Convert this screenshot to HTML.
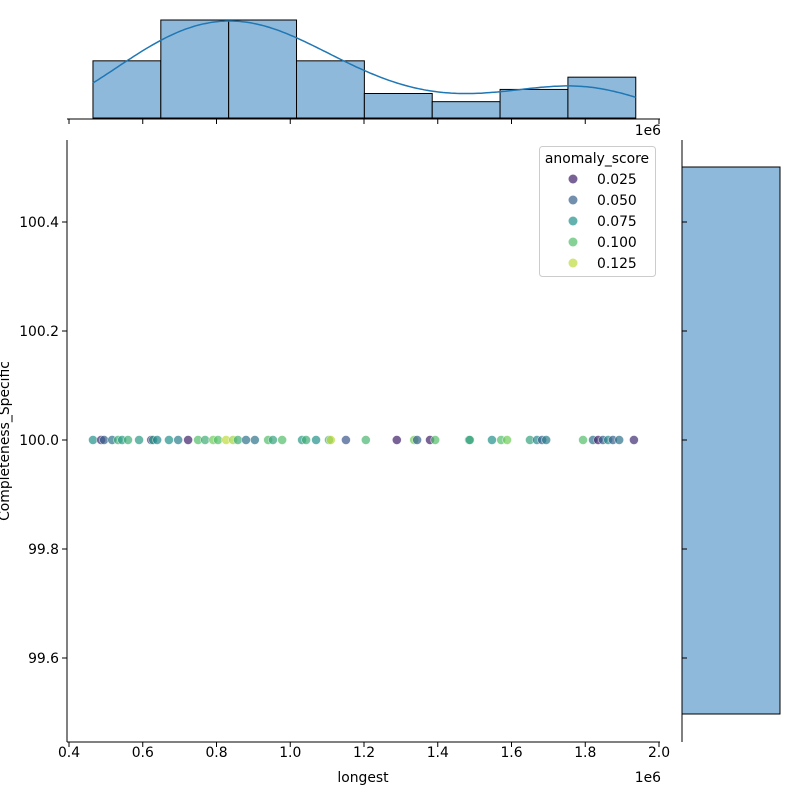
<!DOCTYPE html>
<html><head><meta charset="utf-8"><style>
html,body{margin:0;padding:0;background:#fff;}
svg{display:block;font-family:"DejaVu Sans","Liberation Sans",sans-serif;}
</style></head><body>
<svg id="chart" width="800" height="800" xmlns="http://www.w3.org/2000/svg">
<g id="topg"></g>
<g id="rightg"></g>
<g id="maing"></g>
<g id="legendg"></g>
</svg>
<script>
const xValues=[0.465,0.487,0.495,0.517,0.533,0.544,0.560,0.590,0.623,0.628,0.639,0.671,0.696,0.723,0.750,0.769,0.791,0.804,0.826,0.845,0.858,0.880,0.904,0.940,0.953,0.978,1.032,1.043,1.070,1.105,1.110,1.151,1.205,1.289,1.336,1.344,1.379,1.393,1.485,1.487,1.547,1.572,1.588,1.650,1.669,1.683,1.694,1.794,1.821,1.835,1.848,1.862,1.875,1.892,1.932];
const scores=[0.075,0.03,0.05,0.06,0.09,0.08,0.09,0.08,0.03,0.08,0.07,0.075,0.065,0.025,0.1,0.09,0.11,0.1,0.125,0.12,0.09,0.06,0.06,0.1,0.085,0.1,0.08,0.09,0.075,0.09,0.125,0.045,0.095,0.025,0.11,0.05,0.025,0.1,0.07,0.09,0.075,0.1,0.11,0.085,0.07,0.05,0.065,0.1,0.06,0.025,0.05,0.07,0.05,0.06,0.03];
const yValue=100.0;
const binEdges=[0.465,0.649,0.833,1.017,1.201,1.385,1.569,1.753,1.937];
const binCounts=[7,12,12,7,3,2,3.5,5];
const xTicks=[0.4,0.6,0.8,1.0,1.2,1.4,1.6,1.8,2.0];
const yTicks=[99.6,99.8,100.0,100.2,100.4];
const legendValues=[0.025,0.050,0.075,0.100,0.125];

const NS="http://www.w3.org/2000/svg";
const FS=13.9;
function el(p,t,a){const e=document.createElementNS(NS,t);for(const k in a)e.setAttribute(k,a[k]);p.appendChild(e);return e;}
const X0=67,X1=660,Y0=140,Y1=742;
const sx=v=>69+(v-0.4)/0.2*73.75;
const sy=v=>440-(v-100)/0.2*109;
const vir=[[68,1,84],[59,82,139],[33,145,140],[94,201,98],[253,231,37]];
function color(s){let t=(s-0.0125)/0.125;t=Math.max(0,Math.min(1,t))*4;const i=Math.min(3,Math.floor(t)),f=t-i;const c=vir[i].map((v,k)=>Math.round(v+(vir[i+1][k]-v)*f));return `rgb(${c})`;}

const mainG=document.getElementById('maing');
const sp1=el(mainG,'line',{x1:X0,y1:Y0,x2:X0,y2:Y1,stroke:'#000','stroke-width':1});


const sp2=el(mainG,'line',{x1:X0,y1:Y1,x2:X1,y2:Y1,stroke:'#000','stroke-width':1});


xTicks.forEach(v=>{const x=sx(v);
 el(mainG,'line',{x1:x,y1:Y1,x2:x,y2:Y1+5,stroke:'#000'});
 const t=el(mainG,'text',{x:x,y:Y1+15,'font-size':FS,'text-anchor':'middle'});t.textContent=v.toFixed(1);
 
 
 el(mainG,'line',{x1:x,y1:119,x2:x,y2:124,stroke:'#000'});
});
yTicks.forEach(v=>{const y=sy(v);
 el(mainG,'line',{x1:X0-5,y1:y,x2:X0,y2:y,stroke:'#000'});
 const t=el(mainG,'text',{x:X0-8,y:y+5,'font-size':FS,'text-anchor':'end'});t.textContent=v.toFixed(1);
 
 
 el(mainG,'line',{x1:682,y1:y,x2:687,y2:y,stroke:'#000'});
});
let tx=el(mainG,'text',{x:363,y:782,'font-size':FS,'text-anchor':'middle'});tx.textContent='longest';


tx=el(mainG,'text',{x:0,y:0,'font-size':FS,'text-anchor':'middle',transform:'translate(9,441) rotate(-90)'});tx.textContent='Completeness_Specific';


tx=el(mainG,'text',{x:661,y:782,'font-size':FS,'text-anchor':'end'});tx.textContent='1e6';


tx=el(mainG,'text',{x:661,y:135,'font-size':FS,'text-anchor':'end'});tx.textContent='1e6';


xValues.forEach((v,i)=>{const c=el(mainG,'circle',{cx:sx(v),cy:sy(yValue),r:4.5,fill:color(scores[i]),'fill-opacity':0.7,stroke:'#fff','stroke-width':0.6,'stroke-opacity':0.7});
 
 
});

const topG=document.getElementById('topg');
const maxC=Math.max(...binCounts);
const hy=c=>118-c/maxC*98;
binCounts.forEach((c,i)=>{const r=el(topG,'rect',{x:sx(binEdges[i]),y:hy(c),width:sx(binEdges[i+1])-sx(binEdges[i]),height:118-hy(c),fill:'#8fb9da',stroke:'#000','stroke-width':1});
 
 
});
// KDE smoothed from the histogram distribution
const bw=0.15;
function kde(x){let s=0;binCounts.forEach((c,i)=>{const m=(binEdges[i]+binEdges[i+1])/2;const z=(x-m)/bw;s+=c*Math.exp(-0.5*z*z);});return s;}
let pts=[],mx=0;const ea=binEdges[0],eb=binEdges[binEdges.length-1];
for(let i=0;i<=200;i++){const x=ea+(eb-ea)*i/200;const d=kde(x);pts.push([x,d]);mx=Math.max(mx,d);}
const kpath=pts.map((p,i)=>(i?'L':'M')+sx(p[0]).toFixed(1)+','+(118-p[1]/mx*97).toFixed(1)).join(' ');
const kd=el(topG,'path',{d:kpath,fill:'none',stroke:'#1f77b4','stroke-width':1.5});


const ts=el(topG,'line',{x1:X0,y1:119,x2:X1,y2:119,stroke:'#000'});



const rightG=document.getElementById('rightg');
const rb=el(rightG,'rect',{x:682,y:167,width:98,height:547,fill:'#8fb9da',stroke:'#000','stroke-width':1});


const rs=el(rightG,'line',{x1:682,y1:Y0,x2:682,y2:Y1,stroke:'#000'});



const lg=document.getElementById('legendg');
const box=el(lg,'rect',{x:539.5,y:146.5,width:116,height:130,rx:3,fill:'#fff','fill-opacity':0.8,stroke:'#ccc'});


tx=el(lg,'text',{x:597,y:163,'font-size':FS,'text-anchor':'middle'});tx.textContent='anomaly_score';


legendValues.forEach((v,i)=>{const y=180+i*21;
 const g=el(lg,'g',{});
 
 
 el(g,'circle',{cx:573,cy:y-1,r:4.5,fill:color(v),'fill-opacity':0.7});
 const tt=el(g,'text',{x:597,y:y+4,'font-size':FS});tt.textContent=v.toFixed(3);
});
</script>
</body></html>
